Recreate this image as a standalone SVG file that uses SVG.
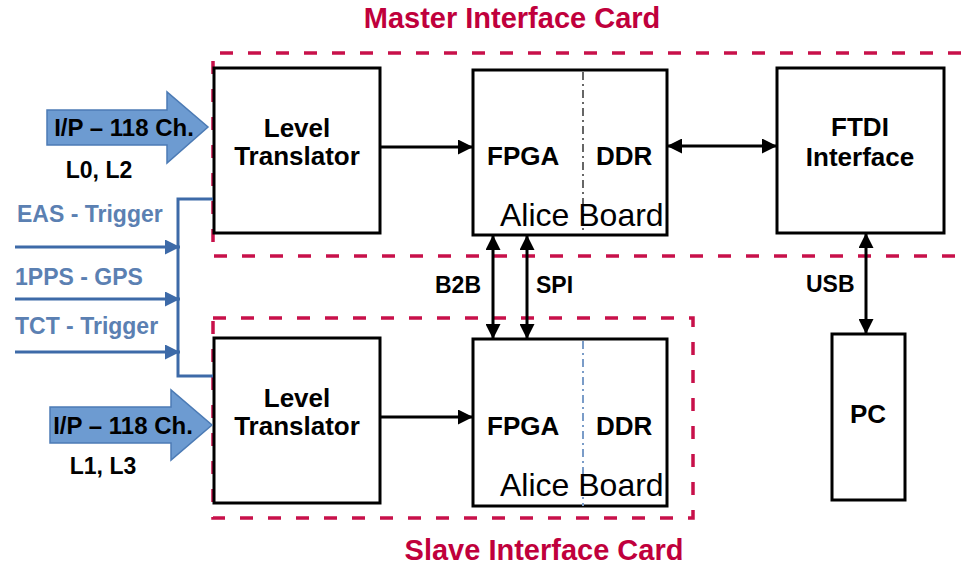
<svg xmlns="http://www.w3.org/2000/svg" width="961" height="567" viewBox="0 0 961 567">
<defs>
<style>
.box{fill:#fff;stroke:#000;stroke-width:3}
.card{fill:none;stroke:#c8104a;stroke-width:3.5;stroke-dasharray:13 15}
.t{font-family:"Liberation Sans",Arial,sans-serif;fill:#000}
.b{font-weight:bold}
.title{font-family:"Liberation Sans",Arial,sans-serif;font-weight:bold;font-size:29px;fill:#c0003c}
.sig{font-family:"Liberation Sans",Arial,sans-serif;font-weight:bold;font-size:23px;fill:#5b80b2}
.blk{fill:#6d9bd1;stroke:#4c7bb5;stroke-width:1.5}
.con{stroke:#000;stroke-width:3;fill:none}
.bl{stroke:#3d6aa8;stroke-width:3;fill:none}
</style>
<marker id="ah" viewBox="0 0 10 10" refX="10" refY="5" markerWidth="5" markerHeight="5" orient="auto-start-reverse" markerUnits="strokeWidth"><path d="M0,0 L10,5 L0,10 z" fill="#000"/></marker>
<marker id="ahb" viewBox="0 0 10 10" refX="10" refY="5" markerWidth="5" markerHeight="5" orient="auto" markerUnits="strokeWidth"><path d="M0,0 L10,5 L0,10 z" fill="#3d6aa8"/></marker>
</defs>
<rect width="961" height="567" fill="#fff"/>

<g id="master-card">
<path class="card" d="M961,53 L213,53 L213,256 L961,256"/>
<text class="title" x="512" y="28" text-anchor="middle">Master Interface Card</text>
</g>
<g id="slave-card">
<rect class="card" x="213" y="318" width="480" height="200"/>
<text class="title" x="544" y="560" text-anchor="middle">Slave Interface Card</text>
</g>

<g id="level-master">
<rect class="box" x="214" y="68" width="166" height="165"/>
<text class="t b" font-size="26" x="297" y="137" text-anchor="middle">Level</text>
<text class="t b" font-size="26" x="297" y="165" text-anchor="middle">Translator</text>
</g>
<g id="alice-master">
<rect class="box" x="473" y="70" width="194" height="165"/>
<line x1="583" y1="72" x2="583" y2="233" stroke="#666" stroke-width="2" stroke-dasharray="8 4 2 4"/>
<text class="t b" font-size="26" x="487" y="165">FPGA</text>
<text class="t b" font-size="26" x="596" y="165">DDR</text>
<text class="t" font-size="32" x="500" y="226">Alice Board</text>
</g>
<g id="ftdi">
<rect class="box" x="777" y="68" width="167" height="165"/>
<text class="t b" font-size="26" x="860" y="136" text-anchor="middle">FTDI</text>
<text class="t b" font-size="26" x="860" y="166" text-anchor="middle">Interface</text>
</g>
<g id="level-slave">
<rect class="box" x="214" y="338" width="166" height="165"/>
<text class="t b" font-size="26" x="297" y="407" text-anchor="middle">Level</text>
<text class="t b" font-size="26" x="297" y="435" text-anchor="middle">Translator</text>
</g>
<g id="alice-slave">
<rect class="box" x="473" y="339" width="194" height="167"/>
<line x1="583" y1="341" x2="583" y2="506" stroke="#7a9cc8" stroke-width="2" stroke-dasharray="8 4 2 4"/>
<text class="t b" font-size="26" x="487" y="435">FPGA</text>
<text class="t b" font-size="26" x="596" y="435">DDR</text>
<text class="t" font-size="32" x="500" y="496">Alice Board</text>
</g>
<g id="pc">
<rect class="box" x="832" y="334" width="73" height="166"/>
<text class="t b" font-size="26" x="868" y="423" text-anchor="middle">PC</text>
</g>

<g id="input-master">
<path class="blk" d="M47,110 L167,110 L167,92 L208,127 L167,163 L167,145 L47,145 z"/>
<text class="t b" font-size="24" x="124" y="136" text-anchor="middle">I/P – 118 Ch.</text>
<text class="t b" font-size="23" x="99" y="178" text-anchor="middle">L0, L2</text>
</g>
<g id="input-slave">
<path class="blk" d="M50,407 L171,407 L171,390 L212,425 L171,460 L171,443 L50,443 z"/>
<text class="t b" font-size="24" x="123" y="434" text-anchor="middle">I/P – 118 Ch.</text>
<text class="t b" font-size="23" x="103" y="474" text-anchor="middle">L1, L3</text>
</g>

<g id="signals">
<text class="sig" x="17" y="222">EAS - Trigger</text>
<text class="sig" x="15" y="285">1PPS - GPS</text>
<text class="sig" x="15" y="334">TCT - Trigger</text>
</g>

<g id="connectors">
<path class="bl" d="M213,199 L178,199 L178,376 L213,376"/>
<line class="bl" x1="15" y1="247" x2="180" y2="247" marker-end="url(#ahb)"/>
<line class="bl" x1="15" y1="299" x2="180" y2="299" marker-end="url(#ahb)"/>
<line class="bl" x1="15" y1="352" x2="180" y2="352" marker-end="url(#ahb)"/>
<line class="con" x1="380" y1="147" x2="473" y2="147" marker-end="url(#ah)"/>
<line class="con" x1="380" y1="417" x2="473" y2="417" marker-end="url(#ah)"/>
<line class="con" x1="667" y1="146" x2="777" y2="146" marker-start="url(#ah)" marker-end="url(#ah)"/>
<line class="con" x1="493" y1="235" x2="493" y2="339" marker-start="url(#ah)" marker-end="url(#ah)"/>
<line class="con" x1="527" y1="235" x2="527" y2="339" marker-start="url(#ah)" marker-end="url(#ah)"/>
<line class="con" x1="866" y1="233" x2="866" y2="334" marker-start="url(#ah)" marker-end="url(#ah)"/>
<text class="t b" font-size="23" x="435" y="293">B2B</text>
<text class="t b" font-size="23" x="536" y="293">SPI</text>
<text class="t b" font-size="23" x="806" y="292">USB</text>
</g>
</svg>
